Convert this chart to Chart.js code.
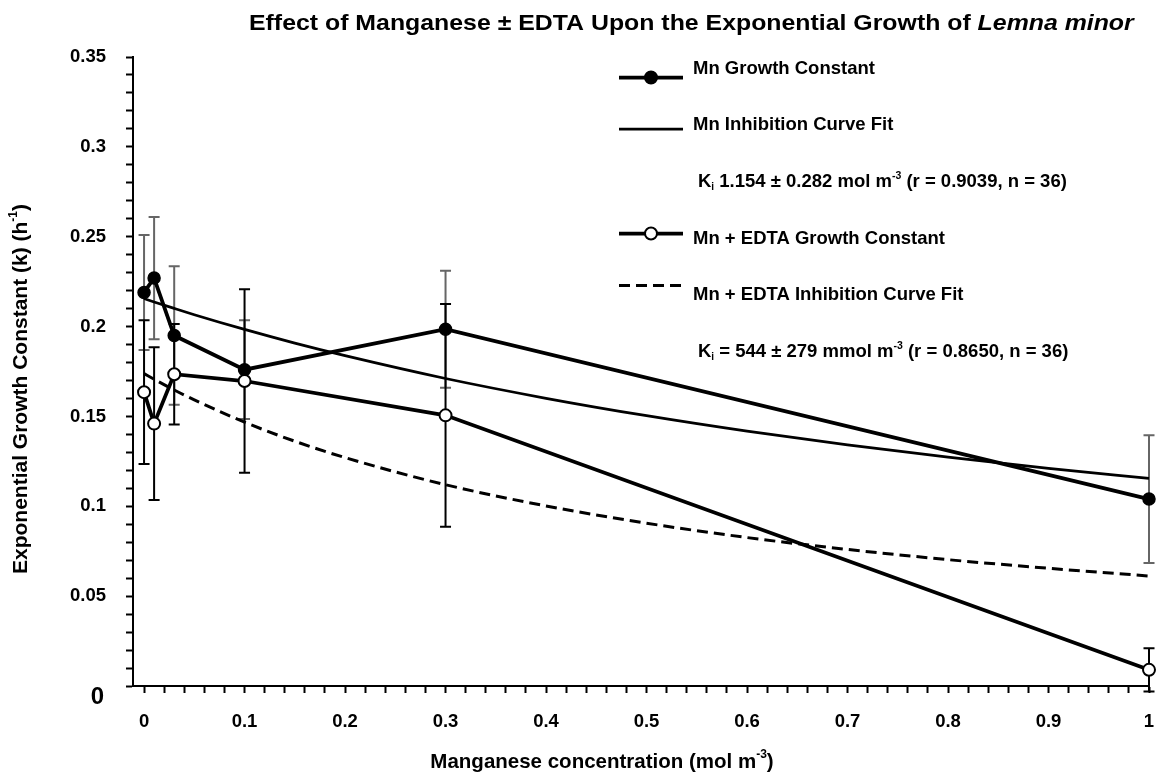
<!DOCTYPE html>
<html>
<head>
<meta charset="utf-8">
<title>Effect of Manganese ± EDTA Upon the Exponential Growth of Lemna minor</title>
<script src="https://cdn.jsdelivr.net/npm/chart.js@4.4.1/dist/chart.umd.min.js"></script>
<style>
  html, body { margin: 0; padding: 0; background: #ffffff; }
  #wrap { width: 1159px; height: 772px; position: relative; }
</style>
</head>
<body>
<div id="wrap"><canvas id="chart" width="1159" height="772"></canvas></div>
<script>
// ---- data -------------------------------------------------------------
const concentrations = [0, 0.01, 0.03, 0.1, 0.3, 1];          // mol m-3
const mnGrowth      = [0.219, 0.227, 0.195, 0.176, 0.1985, 0.104];
const mnGrowthErr   = [0.032, 0.034, 0.0385, 0.0275, 0.0325, 0.0355];
const edtaGrowth    = [0.1635, 0.146, 0.1735, 0.1697, 0.1506, 0.009];
const edtaGrowthErr = [0.040, 0.0425, 0.028, 0.051, 0.062, 0.012];

const fitConcentrations = [0, 0.01, 0.03, 0.05, 0.1, 0.15, 0.2, 0.3, 0.4, 0.5, 0.6, 0.7, 0.8, 0.9, 1];
const mnFit   = [0.2156, 0.2137, 0.2101, 0.2066, 0.1984, 0.1908, 0.1838, 0.1711, 0.1601, 0.1504, 0.1418, 0.1342, 0.1273, 0.1211, 0.1155];
const edtaFit = [0.1738, 0.1707, 0.1647, 0.1592, 0.1468, 0.1362, 0.1271, 0.1120, 0.1002, 0.0906, 0.0826, 0.0760, 0.0703, 0.0655, 0.0612];

const xTickLabels = ['0', '0.1', '0.2', '0.3', '0.4', '0.5', '0.6', '0.7', '0.8', '0.9', '1'];
const yTickLabels = ['0', '0.05', '0.1', '0.15', '0.2', '0.25', '0.3', '0.35'];

const titleMain   = 'Effect of Manganese \u00B1 EDTA Upon the Exponential Growth of ';
const titleItalic = 'Lemna minor';
const xTitle = ['Manganese concentration (mol m', '-3', ')'];
const yTitle = ['Exponential Growth Constant (k) (h', '-1', ')'];
const mnKiText   = [' 1.154 \u00B1 0.282 mol m', '-3', ' (r = 0.9039, n = 36)'];
const edtaKiText = [' = 544 \u00B1 279 mmol m', '-3', ' (r = 0.8650, n = 36)'];

// ---- helpers ----------------------------------------------------------
const FAMILY = '"Liberation Sans", Arial, Helvetica, sans-serif';
const bold = s => `bold ${s}px ${FAMILY}`;
const boldItalic = s => `italic bold ${s}px ${FAMILY}`;
const pts = (xs, ys) => xs.map((x, i) => ({ x, y: ys[i] }));

function drawRich(ctx, parts, x, y, align, sx) {
  sx = sx || 1;
  let w = 0;
  parts.forEach(p => { ctx.font = p.font; p.w = ctx.measureText(p.t).width; w += p.w; });
  let cx = align === 'center' ? -w / 2 : (align === 'right' ? -w : 0);
  ctx.save();
  ctx.translate(x, y);
  ctx.scale(sx, 1);
  ctx.fillStyle = '#000';
  ctx.textAlign = 'left';
  ctx.textBaseline = 'middle';
  parts.forEach(p => { ctx.font = p.font; ctx.fillText(p.t, cx, p.dy || 0); cx += p.w; });
  ctx.restore();
}

function labelFor(list, value) {
  const hit = list.find(l => Math.abs(Number(l) - value) < 1e-9);
  return hit === undefined ? '' : hit;
}

// ---- error bars (drawn under the markers) ----------------------------
const errorBars = {
  id: 'errorBars',
  beforeDatasetsDraw(chart) {
    const { ctx, scales: { x, y } } = chart;
    const groups = [
      { vals: mnGrowth, errs: mnGrowthErr, color: '#666666' },
      { vals: edtaGrowth, errs: edtaGrowthErr, color: '#000000' }
    ];
    ctx.save();
    ctx.lineCap = 'butt';
    groups.forEach(g => {
      ctx.strokeStyle = g.color;
      ctx.lineWidth = 2;
      concentrations.forEach((c, i) => {
        const px = x.getPixelForValue(c);
        const top = y.getPixelForValue(g.vals[i] + g.errs[i]);
        const bot = y.getPixelForValue(g.vals[i] - g.errs[i]);
        ctx.beginPath();
        ctx.moveTo(px, top); ctx.lineTo(px, bot);
        ctx.moveTo(px - 5.5, top); ctx.lineTo(px + 5.5, top);
        ctx.moveTo(px - 5.5, bot); ctx.lineTo(px + 5.5, bot);
        ctx.stroke();
      });
    });
    ctx.restore();
  }
};

// ---- title, axis titles, key and annotations --------------------------
const annotations = {
  id: 'annotations',
  afterDraw(chart) {
    const ctx = chart.ctx;
    const ds = chart.data.datasets;

    drawRich(ctx, [
      { t: titleMain, font: bold(22) },
      { t: titleItalic, font: boldItalic(22) }
    ], 249, 24, 'left', 1.13);

    drawRich(ctx, [
      { t: xTitle[0], font: bold(20.5) },
      { t: xTitle[1], font: bold(12), dy: -7 },
      { t: xTitle[2], font: bold(20.5) }
    ], 602, 762, 'center');

    ctx.save();
    ctx.translate(21, 389);
    ctx.rotate(-Math.PI / 2);
    drawRich(ctx, [
      { t: yTitle[0], font: bold(21) },
      { t: yTitle[1], font: bold(12), dy: -7 },
      { t: yTitle[2], font: bold(21) }
    ], 0, 0, 'center');
    ctx.restore();

    // large zero at the origin of the value axis
    drawRich(ctx, [{ t: yTickLabels[0], font: bold(24) }], 104, 697, 'right');

    // key
    const x0 = 619, x1 = 683, tx = 693, kx = 698;
    const fs = 18.5;
    const sample = (yy, width, dash) => {
      ctx.save();
      ctx.strokeStyle = '#000';
      ctx.lineWidth = width;
      ctx.setLineDash(dash || []);
      ctx.beginPath(); ctx.moveTo(x0, yy); ctx.lineTo(x1, yy); ctx.stroke();
      ctx.restore();
    };
    const marker = (yy, fill) => {
      ctx.save();
      ctx.beginPath();
      ctx.arc((x0 + x1) / 2, yy, 6, 0, Math.PI * 2);
      ctx.fillStyle = fill; ctx.fill();
      ctx.lineWidth = 2; ctx.strokeStyle = '#000'; ctx.stroke();
      ctx.restore();
    };

    sample(77.5, 3.75); marker(77.5, '#000');
    drawRich(ctx, [{ t: ds[1].label, font: bold(fs) }], tx, 68.5, 'left');

    sample(129, 2.75);
    drawRich(ctx, [{ t: ds[2].label, font: bold(fs) }], tx, 125, 'left');

    drawRich(ctx, [
      { t: 'K', font: bold(fs) },
      { t: 'i', font: bold(10), dy: 5 },
      { t: mnKiText[0], font: bold(fs) },
      { t: mnKiText[1], font: bold(10.5), dy: -6 },
      { t: mnKiText[2], font: bold(fs) }
    ], kx, 182, 'left');

    sample(233.5, 3.75); marker(233.5, '#fff');
    drawRich(ctx, [{ t: ds[0].label, font: bold(fs) }], tx, 238.5, 'left');

    sample(285.5, 3, [11, 6]);
    drawRich(ctx, [{ t: ds[3].label, font: bold(fs) }], tx, 295, 'left');

    drawRich(ctx, [
      { t: 'K', font: bold(fs) },
      { t: 'i', font: bold(10), dy: 5 },
      { t: edtaKiText[0], font: bold(fs) },
      { t: edtaKiText[1], font: bold(10.5), dy: -6 },
      { t: edtaKiText[2], font: bold(fs) }
    ], kx, 352, 'left');
  }
};

// ---- chart --------------------------------------------------------------
Chart.defaults.font.family = FAMILY;
Chart.defaults.color = '#000';

new Chart(document.getElementById('chart'), {
  type: 'line',
  data: {
    datasets: [
      {
        label: 'Mn + EDTA Growth Constant',
        data: pts(concentrations, edtaGrowth),
        borderColor: '#000', borderWidth: 3.75, tension: 0,
        pointRadius: 6, pointHoverRadius: 6,
        pointBackgroundColor: '#fff', pointBorderColor: '#000', pointBorderWidth: 2,
        clip: false, order: 1
      },
      {
        label: 'Mn Growth Constant',
        data: pts(concentrations, mnGrowth),
        borderColor: '#000', borderWidth: 3.75, tension: 0,
        pointRadius: 6, pointHoverRadius: 6,
        pointBackgroundColor: '#000', pointBorderColor: '#000', pointBorderWidth: 1.5,
        clip: false, order: 2
      },
      {
        label: 'Mn Inhibition Curve Fit',
        data: pts(fitConcentrations, mnFit),
        borderColor: '#000', borderWidth: 2.75, pointRadius: 0,
        cubicInterpolationMode: 'monotone',
        clip: false, order: 3
      },
      {
        label: 'Mn + EDTA Inhibition Curve Fit',
        data: pts(fitConcentrations, edtaFit),
        borderColor: '#000', borderWidth: 3, borderDash: [11, 6], pointRadius: 0,
        cubicInterpolationMode: 'monotone',
        clip: false, order: 4
      }
    ]
  },
  options: {
    responsive: false,
    animation: false,
    devicePixelRatio: 1,
    layout: { padding: { top: 57, right: 10, bottom: 0, left: 0 } },
    plugins: { legend: { display: false }, title: { display: false }, tooltip: { enabled: false } },
    scales: {
      x: {
        type: 'linear',
        min: -0.011, max: 1,
        afterBuildTicks(scale) {
          const t = [];
          for (let i = 0; i <= 50; i++) t.push({ value: i / 50 });
          scale.ticks = t;
        },
        afterFit(scale) {
          scale.height = 86;
          scale.paddingLeft = 0;
          scale.paddingRight = 0;
        },
        grid: { drawOnChartArea: false, drawTicks: true, tickLength: 7, tickColor: '#000', tickWidth: 2 },
        border: { display: true, color: '#000', width: 2 },
        ticks: {
          autoSkip: false, maxRotation: 0, padding: 18,
          font: { size: 18.5, weight: 'bold' },
          callback: v => labelFor(xTickLabels, v)
        }
      },
      y: {
        type: 'linear',
        min: 0, max: 0.35,
        afterBuildTicks(scale) {
          const t = [];
          for (let i = 0; i <= 35; i++) t.push({ value: i / 100 });
          scale.ticks = t;
        },
        afterFit(scale) {
          scale.width = 133;
          scale.paddingTop = 0;
          scale.paddingBottom = 0;
        },
        grid: { drawOnChartArea: false, drawTicks: true, tickLength: 7, tickColor: '#000', tickWidth: 2 },
        border: { display: true, color: '#000', width: 2 },
        ticks: {
          autoSkip: false, padding: 20,
          font: { size: 18.5, weight: 'bold' },
          callback: v => (Math.abs(v) < 1e-9 ? '' : labelFor(yTickLabels, v))
        }
      }
    }
  },
  plugins: [errorBars, annotations]
});
</script>
</body>
</html>
